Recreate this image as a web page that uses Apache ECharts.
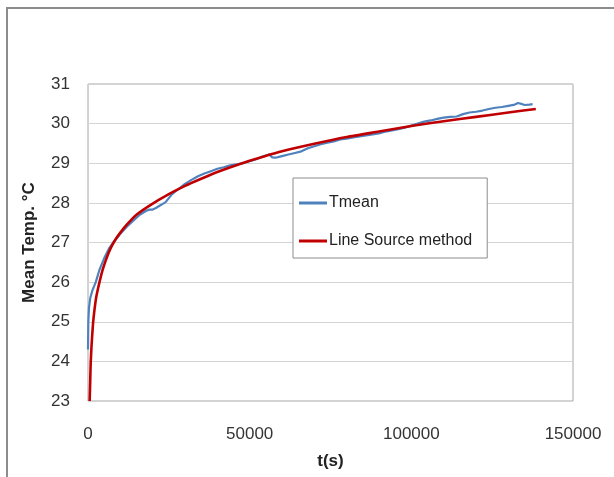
<!DOCTYPE html>
<html>
<head>
<meta charset="utf-8">
<script src="https://cdn.jsdelivr.net/npm/echarts@6/dist/echarts.min.js"></script>
<style>
  html, body { margin: 0; padding: 0; background: #fff; }
  #chart { width: 614px; height: 477px; }
</style>
</head>
<body>
<div id="chart"></div>
<script>
// time (s) and temperature (°C)
var tmeanTime = [0, 100, 300, 700, 1400, 2400, 3500, 5000, 6500, 8000, 10000, 12000, 14000, 16000, 18000, 19000, 20000, 21000, 22000, 23000, 24000, 25000, 26000, 28000, 30000, 32000, 34000, 36000, 38000, 40000, 42000, 44000, 46000, 48000, 50000, 52000, 54000, 56000, 57000, 58000, 60000, 62000, 64000, 66000, 68000, 70000, 72000, 74000, 76000, 78000, 80000, 82000, 84000, 86000, 88000, 90000, 92000, 94000, 96000, 98000, 100000, 102000, 104000, 106000, 108000, 110000, 112000, 114000, 116000, 118000, 120000, 122000, 124000, 126000, 128000, 130000, 132000, 133000, 134000, 135000, 136500, 137500];
var tmeanTemp = [24.3, 25.0, 25.35, 25.6, 25.8, 26.0, 26.3, 26.6, 26.85, 27.02, 27.22, 27.4, 27.55, 27.7, 27.8, 27.83, 27.83, 27.87, 27.92, 27.97, 28.02, 28.12, 28.22, 28.35, 28.48, 28.58, 28.67, 28.74, 28.8, 28.86, 28.9, 28.95, 28.97, 29.0, 29.05, 29.1, 29.17, 29.22, 29.15, 29.14, 29.18, 29.22, 29.26, 29.3, 29.38, 29.43, 29.48, 29.52, 29.55, 29.6, 29.62, 29.65, 29.68, 29.7, 29.73, 29.75, 29.8, 29.83, 29.86, 29.9, 29.95, 30.0, 30.05, 30.08, 30.12, 30.15, 30.17, 30.18, 30.24, 30.28, 30.3, 30.33, 30.37, 30.4, 30.42, 30.45, 30.48, 30.52, 30.5, 30.47, 30.48, 30.49];

var lineSrcTime = [520, 700, 830, 1100, 1550, 2000, 2500, 3000, 3700, 4500, 5500, 6800, 8300, 10000, 12000, 15000, 19400, 25000, 30000, 35000, 40000, 47200, 54400, 60000, 70000, 80000, 90000, 100000, 110000, 120000, 130000, 138500];
var lineSrcTemp = [23.0, 23.55, 23.95, 24.4, 24.95, 25.3, 25.6, 25.8, 26.05, 26.3, 26.55, 26.82, 27.05, 27.25, 27.45, 27.7, 27.95, 28.22, 28.43, 28.61, 28.78, 28.99, 29.17, 29.3, 29.49, 29.66, 29.8, 29.94, 30.06, 30.17, 30.28, 30.37];

var xTicks = [0, 50000, 100000, 150000];
var yTicks = [23, 24, 25, 26, 27, 28, 29, 30, 31];

function pairs(xs, ys) {
  return xs.map(function (x, i) { return [x, ys[i]]; });
}

var chart = echarts.init(document.getElementById('chart'));

var font = '"Liberation Sans", Arial, sans-serif';

var option = {
  backgroundColor: '#ffffff',
  animation: false,
  textStyle: { fontFamily: font },
  graphic: [{
    type: 'polyline',
    shape: { points: [[7, 477], [7, 8], [614, 8]] },
    style: { stroke: '#8c8c8c', lineWidth: 2, fill: null }
  }],
  grid: {
    left: 88,
    right: 41,
    top: 84,
    bottom: 76,
    show: true,
    borderColor: '#a6a6a6',
    borderWidth: 1
  },
  legend: {
    orient: 'vertical',
    left: 293,
    top: 178,
    padding: [17, 15, 9, 6],
    itemGap: 22,
    itemWidth: 28,
    itemHeight: 3,
    borderColor: '#8c8c8c',
    borderWidth: 1,
    backgroundColor: '#fff',
    textStyle: { fontFamily: font, fontSize: 16, color: '#222', padding: [0, 0, 0, -3] },
    data: [
      { name: 'Tmean', icon: 'rect' },
      { name: 'Line Source method', icon: 'rect' }
    ]
  },
  xAxis: {
    type: 'value',
    min: xTicks[0],
    max: xTicks[xTicks.length - 1],
    interval: 50000,
    name: 't(s)',
    nameLocation: 'middle',
    nameGap: 52,
    nameTextStyle: { fontFamily: font, fontSize: 17, fontWeight: 'bold', color: '#222' },
    axisLine: { show: false },
    axisTick: { show: false },
    splitLine: { show: false },
    axisLabel: { fontFamily: font, fontSize: 17, color: '#333', margin: 25, formatter: function (v) { return String(v); } }
  },
  yAxis: {
    type: 'value',
    min: yTicks[0],
    max: yTicks[yTicks.length - 1],
    interval: 1,
    name: 'Mean Temp. °C',
    nameLocation: 'middle',
    nameGap: 50,
    nameTextStyle: { fontFamily: font, fontSize: 17, fontWeight: 'bold', color: '#222' },
    axisLine: { show: false },
    axisTick: { show: false },
    splitLine: { lineStyle: { color: '#d4d4d4', width: 1 } },
    axisLabel: { fontFamily: font, fontSize: 17, color: '#333', margin: 18 }
  },
  series: [{
    name: 'Tmean',
    type: 'line',
    showSymbol: false,
    color: '#4f81bd',
    lineStyle: { color: '#4f81bd', width: 2.2 },
    data: pairs(tmeanTime, tmeanTemp)
  }, {
    name: 'Line Source method',
    type: 'line',
    showSymbol: false,
    smooth: 0.2,
    color: '#c00000',
    lineStyle: { color: '#c00000', width: 2.6 },
    data: pairs(lineSrcTime, lineSrcTemp)
  }]
};

chart.setOption(option);
</script>
</body>
</html>
